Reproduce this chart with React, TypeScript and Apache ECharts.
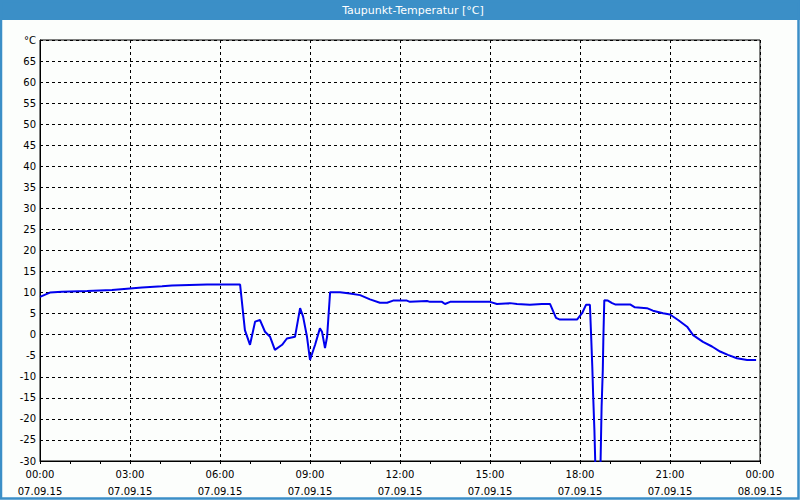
import React, { useEffect, useRef } from "react";
import * as echarts from "echarts";

// time in hours since 07.09.15 00:00
const hours: number[] = [
  0, 0.33, 0.73, 1.57, 2.4, 2.9, 3.4, 4.07, 4.4, 5.57, 6.67,
  6.83, 7.0, 7.17, 7.33, 7.5, 7.67, 7.83, 8.07, 8.23, 8.5, 8.67, 8.77, 8.9, 9.0,
  9.17, 9.33, 9.4, 9.5, 9.57, 9.67, 10.0, 10.33, 10.67, 11.0, 11.33, 11.57, 11.77,
  12.23, 12.33, 12.9, 13.0, 13.4, 13.5, 13.67, 14.57, 15.0, 15.23, 15.67, 15.9,
  16.33, 16.73, 17.0, 17.2, 17.33, 17.9, 18.07, 18.2, 18.33, 18.37, 18.41, 18.44,
  18.48, 18.53, 18.67, 18.72, 18.76, 18.78, 18.81, 18.93, 19.07, 19.17, 19.67,
  19.83, 20.23, 20.43, 20.77, 21.0, 21.27, 21.57, 21.77, 22.1, 22.4, 22.67, 22.93,
  23.23, 23.57, 23.87,
];

const dewPoint: number[] = [
  9.0, 10.0, 10.2, 10.4, 10.6, 10.9, 11.2, 11.5, 11.7, 11.9, 11.9,
  1.1, -2.4, 3.1, 3.5, 0.7, -0.5, -3.6, -2.4, -0.9, -0.5, 6.3, 4.3, -0.5, -6.0,
  -2.4, 1.5, 0.7, -3.2, -0.5, 10.1, 10.1, 9.8, 9.4, 8.4, 7.6, 7.6, 8.1,
  8.1, 7.8, 8.0, 7.8, 7.8, 7.3, 7.8, 7.8, 7.8, 7.3, 7.5, 7.3,
  7.1, 7.3, 7.3, 4.0, 3.6, 3.6, 5.1, 7.1, 7.1, 0.0, -7.6, -14.7,
  -22.6, -36, -36, -17.1, -8.4, -0.5, 8.2, 8.1, 7.5, 7.2, 7.2,
  6.5, 6.3, 5.7, 5.1, 4.8, 3.5, 1.9, -0.1, -1.7, -2.8, -4.0, -4.8,
  -5.6, -6.0, -6.0,
];

const title = "Taupunkt-Temperatur [°C]";
const unitLabel = "°C";
const dayLabels: string[] = ["07.09.15", "08.09.15"];

export default function App() {
  const ref = useRef<HTMLDivElement>(null);
  useEffect(() => {
    document.body.style.margin = "0";
    const chart = echarts.init(ref.current!, null, { renderer: "svg" });
    const font = "DejaVu Sans";
    const blue = "#3b8fc7";
    chart.setOption({
      animation: false,
      backgroundColor: "#fcfefc",
      textStyle: { fontFamily: font },
      graphic: [
        {
          type: "rect",
          shape: { x: 0, y: 0, width: 800, height: 20 },
          style: { fill: blue },
          z: 10,
        },
        {
          type: "rect",
          shape: { x: 1, y: 1, width: 797.5, height: 497.5 },
          style: { fill: "none", stroke: blue, lineWidth: 2.5 },
          z: 10,
        },
        {
          type: "text",
          x: 413,
          y: 10,
          style: {
            text: title,
            fill: "#ffffff",
            font: `11px "${font}"`,
            textAlign: "center",
            textVerticalAlign: "middle",
          },
          z: 11,
        },
      ],
      grid: {
        left: 40,
        top: 40,
        width: 720,
        height: 421,
        show: true,
        borderColor: "#000",
        borderWidth: 1,
        backgroundColor: "transparent",
      },
      xAxis: {
        type: "value",
        min: 0,
        max: 24,
        interval: 3,
        axisLine: { show: true, onZero: false, lineStyle: { color: "#000", width: 1 } },
        axisTick: { show: true, length: 3, lineStyle: { color: "#000" } },
        minorTick: { show: true, splitNumber: 3, length: 3, lineStyle: { color: "#000" } },
        splitLine: { show: true, lineStyle: { color: "#000", type: [3, 3], width: 1 } },
        axisLabel: {
          color: "#000",
          fontFamily: font,
          fontSize: 10,
          lineHeight: 17,
          margin: 5,
          formatter: (v: number) => {
            const hh = String(v % 24).padStart(2, "0");
            const day = v >= 24 ? dayLabels[1] : dayLabels[0];
            return `${hh}:00\n${day}`;
          },
        },
      },
      yAxis: {
        type: "value",
        min: -30,
        max: 70,
        interval: 5,
        axisLine: { show: true, onZero: false, lineStyle: { color: "#000", width: 1 } },
        axisTick: { show: false },
        splitLine: { show: true, lineStyle: { color: "#000", type: [3, 3], width: 1 } },
        axisLabel: {
          color: "#000",
          fontFamily: font,
          fontSize: 10,
          margin: 4,
          formatter: (v: number) => (v === 70 ? unitLabel : String(v)),
        },
      },
      series: [
        {
          type: "line",
          data: hours.map((h, i) => [h, dewPoint[i]]),
          showSymbol: false,
          symbol: "none",
          clip: true,
          lineStyle: { color: "#0000ee", width: 2 },
          itemStyle: { color: "#0000ee" },
        },
      ],
    });
    return () => chart.dispose();
  }, []);
  return <div ref={ref} style={{ width: 800, height: 500, position: "absolute", left: 0, top: 0 }} />;
}
